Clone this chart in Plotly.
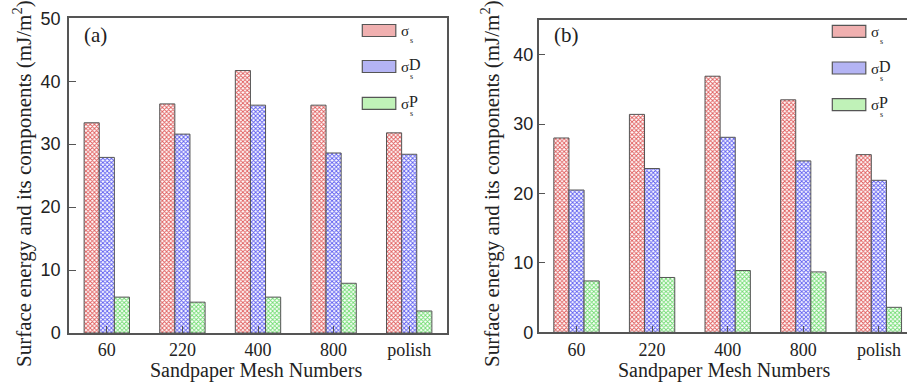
import plotly.graph_objects as go

# ---------------- data ----------------
categories = ["60", "220", "400", "800", "polish"]

a_total = [33.4, 36.4, 41.7, 36.2, 31.8]
a_disp = [27.9, 31.6, 36.2, 28.6, 28.4]
a_polar = [5.7, 4.9, 5.7, 7.9, 3.5]

b_total = [28.0, 31.4, 36.9, 33.5, 25.6]
b_disp = [20.5, 23.6, 28.1, 24.7, 21.9]
b_polar = [7.4, 7.9, 8.9, 8.7, 3.6]

y_ticks_a = [0, 10, 20, 30, 40, 50]
y_ticks_b = [0, 10, 20, 30, 40]

series_names = ["σs", "σsD", "σsP"]
sup_letters = ["", "D", "P"]

# ---------------- style ----------------
W, H = 907, 382
SERIF = "Liberation Serif, Times New Roman, serif"
SANS = "Liberation Sans, Arial, sans-serif"
AX = "#555555"
fg_cols = ["#e05a5a", "#5a5af0", "#6edc6e"]
patch_cols = ["#f0b0b0", "#b4b4f4", "#c0f2b8"]


def xp(px):
    return px / W


def yp(py):
    return 1 - py / H


fig = go.Figure()

panels = [
    ("x", "y", [a_total, a_disp, a_polar]),
    ("x2", "y2", [b_total, b_disp, b_polar]),
]
for xa, ya, vals in panels:
    for i, v in enumerate(vals):
        fig.add_trace(go.Bar(
            x=categories, y=v, xaxis=xa, yaxis=ya,
            name=series_names[i], showlegend=False,
            marker=dict(
                color="white",
                line=dict(color=AX, width=1),
                pattern=dict(shape="x", fgcolor=fg_cols[i], bgcolor="white",
                             size=3, solidity=0.5),
            ),
        ))

axis_common = dict(showline=True, linecolor=AX, linewidth=1.5, ticks="inside",
                   ticklen=7, tickcolor=AX, tickwidth=1.2, showgrid=False,
                   zeroline=False, automargin=False)

fig.update_layout(
    template="none",
    width=W, height=H, autosize=False,
    margin=dict(l=0, r=0, t=0, b=0, pad=0),
    paper_bgcolor="white", plot_bgcolor="white",
    barmode="group", bargap=0.4, bargroupgap=0,
    showlegend=False,
    xaxis=dict(type="category", categoryorder="array", categoryarray=categories,
               domain=[xp(69), xp(447)], range=[-0.5, 4.5], anchor="y",
               mirror=True, tickfont=dict(family=SERIF, size=18, color="#222"),
               **axis_common),
    yaxis=dict(domain=[yp(333), yp(18.3)], range=[0, 50], anchor="x",
               tickvals=y_ticks_a, mirror=True, ticklabelstandoff=3,
               tickfont=dict(family=SANS, size=18, color="#222"),
               **axis_common),
    xaxis2=dict(type="category", categoryorder="array", categoryarray=categories,
                domain=[xp(538.7), 1.0], range=[-0.5, 4.372], anchor="y2",
                mirror=True, tickfont=dict(family=SERIF, size=18, color="#222"),
                **axis_common),
    yaxis2=dict(domain=[yp(332.3), yp(20.0)], range=[0, 45], anchor="x2",
                tickvals=y_ticks_b, mirror=False,
                tickfont=dict(family=SANS, size=18, color="#222"),
                **axis_common),
)

ann = []
# axis titles
for cx in (256, 724):
    ann.append(dict(text="Sandpaper Mesh Numbers", x=xp(cx), y=yp(370.5),
                    xref="paper", yref="paper", showarrow=False,
                    xanchor="center", yanchor="middle",
                    font=dict(family=SERIF, size=20, color="#222")))
for cx in (22, 490):
    ann.append(dict(text="Surface energy and its components (mJ/m<sup>2</sup>)",
                    x=xp(cx), y=yp(184), xref="paper", yref="paper",
                    showarrow=False, textangle=-90,
                    xanchor="center", yanchor="middle",
                    font=dict(family=SERIF, size=21, color="#222")))
# panel labels
for lbl, cx in (("(a)", 95), ("(b)", 566)):
    ann.append(dict(text=lbl, x=xp(cx), y=yp(35), xref="paper", yref="paper",
                    showarrow=False, xanchor="center", yanchor="middle",
                    font=dict(family=SERIF, size=21, color="#222")))

shapes = []
# legends (drawn manually)
legend_specs = [
    (362.3, [30.5, 66.5, 103.3]),
    (832.3, [31.3, 68.0, 104.7]),
]
for x0, ycs in legend_specs:
    for i, yc in enumerate(ycs):
        shapes.append(dict(type="rect", xref="paper", yref="paper",
                           x0=xp(x0), x1=xp(x0 + 33.5),
                           y0=yp(yc + 6), y1=yp(yc - 6),
                           fillcolor=patch_cols[i],
                           line=dict(color=AX, width=1.2)))
        sx = x0 + 37
        base = yc + 5
        ann.append(dict(text="σ", x=xp(sx), y=yp(base - 4.5),
                        xref="paper", yref="paper", showarrow=False,
                        xanchor="left", yanchor="middle",
                        font=dict(family=SERIF, size=15, color="#222")))
        ann.append(dict(text="s", x=xp(sx + 8.5), y=yp(base + 5),
                        xref="paper", yref="paper", showarrow=False,
                        xanchor="left", yanchor="middle",
                        font=dict(family=SERIF, size=8, color="#222")))
        if sup_letters[i]:
            ann.append(dict(text=sup_letters[i], x=xp(sx + 7.5), y=yp(base - 7),
                            xref="paper", yref="paper", showarrow=False,
                            xanchor="left", yanchor="middle",
                            font=dict(family=SERIF, size=16, color="#222")))

fig.update_layout(annotations=ann, shapes=shapes)

fig.write_html("out.html", config={"displayModeBar": False},
               post_script="document.body.style.margin='0';")
